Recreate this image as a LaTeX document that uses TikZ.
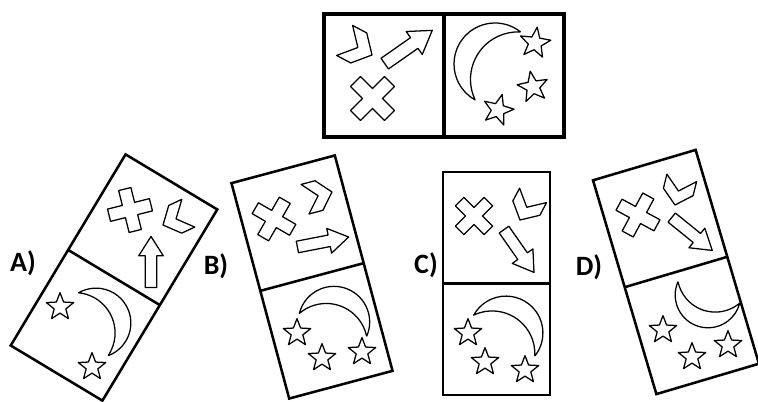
\documentclass[tikz,border=0pt]{standalone}
\usepackage{fontspec}
\setmainfont{Carlito}
\tikzset{
  outline/.style={draw,line width=0.95pt,line join=round},
  cross/.pic={\draw[outline] (-7,7) -- (-7,24) -- (7,24) -- (7,7) -- (24,7) -- (24,-7)
      -- (7,-7) -- (7,-24) -- (-7,-24) -- (-7,-7) -- (-24,-7) -- (-24,7) -- cycle;},
  chevron/.pic={\draw[outline] (0,0) -- (-15,17) -- (-31,17) -- (-16,0) -- (-31,-17) -- (-15,-17) -- cycle;},
  blockarrow/.pic={\draw[outline] (-29,-6.5) -- (7,-6.5) -- (7,-14) -- (29,0) -- (7,14) -- (7,6.5) -- (-29,6.5) -- cycle;},
  moon/.pic={\draw[outline] (52:41) arc[start angle=52,end angle=241,radius=41]
      arc[start angle=205.5,end angle=87.6,radius=47.5] -- cycle;},
  star/.pic={\draw[outline] (90:16) \foreach \a in {90,162,234,306,378} {-- ({\a+36}:6.8) -- ({\a+72}:16)} -- cycle;}
}
\begin{document}
\begin{tikzpicture}[x=0.75pt,y=0.75pt,
    domino/.style={line width=1.9pt},
    optlabel/.style={font=\fontsize{21}{21}\selectfont\bfseries}]
  \useasboundingbox (0,0) rectangle (758,401);

  % question
  \draw[domino,line width=2.3pt] (324,264) rectangle (564,387) (444,264) -- (444,387);
  \pic[rotate=-28] at (372,346) {chevron};
  \pic[rotate=35] at (408.5,354) {blockarrow};
  \pic[rotate=45] at (372.5,302.5) {cross};
  \pic at (495,337) {moon};
  \pic[rotate=-8] at (535,358) {star};
  \pic[rotate=10] at (533,314) {star};
  \pic[rotate=-15] at (498,291) {star};

  % A
  \node[optlabel] (labA) at (23,138) {A)};
  \begin{scope}[shift={(114,123.5)},rotate=-31]
    \draw[domino] (-53.5,-111.5) rectangle (53.5,111.5) (-53.5,0) -- (53.5,0);
  \end{scope}
  \pic[rotate=14,scale=0.9] at (130,191) {cross};
  \pic[rotate=205,scale=0.9] at (163,176) {chevron};
  \pic[rotate=90,scale=0.88] at (151,139) {blockarrow};
  \pic[rotate=-121,scale=0.85] at (96,78) {moon};
  \pic[scale=0.9] at (60,94) {star};
  \pic[scale=0.9] at (92,34) {star};

  % B
  \node[optlabel] (labB) at (216,135) {B)};
  \begin{scope}[shift={(312,124)},rotate=15]
    \draw[domino] (-53.5,-111.5) rectangle (53.5,111.5) (-53.5,0) -- (53.5,0);
  \end{scope}
  \pic[rotate=60,scale=0.9] at (274,182) {cross};
  \pic[rotate=15,scale=0.9] at (332,209) {chevron};
  \pic[rotate=11,scale=0.9] at (323,159) {blockarrow};
  \pic[rotate=-75,scale=0.87] at (334,79) {moon};
  \pic[scale=0.9] at (297,68) {star};
  \pic[scale=0.9] at (322,43) {star};
  \pic[scale=0.9] at (362,49) {star};

  % C
  \node[optlabel] (labC) at (426,136) {C)};
  \begin{scope}[shift={(496.5,117.5)}]
    \draw[domino] (-53.5,-111.5) rectangle (53.5,111.5) (-53.5,0) -- (53.5,0);
  \end{scope}
  \pic[rotate=45,scale=0.85] at (474,185) {cross};
  \pic[rotate=-118,scale=0.9] at (520,181) {chevron};
  \pic[rotate=-55,scale=0.9] at (519,150) {blockarrow};
  \pic[rotate=-90,scale=0.9] at (506,68) {moon};
  \pic[scale=0.9] at (468,68) {star};
  \pic[scale=0.9] at (485,39) {star};
  \pic[scale=0.9] at (525,31) {star};

  % D
  \node[optlabel] (labD) at (589,134) {D)};
  \begin{scope}[shift={(676,129)},rotate=16.5]
    \draw[domino] (-53.5,-111.5) rectangle (53.5,111.5) (-53.5,0) -- (53.5,0);
  \end{scope}
  \pic[rotate=61.5,scale=0.9] at (638,186) {cross};
  \pic[rotate=-104,scale=0.9] at (675,196) {chevron};
  \pic[rotate=-39,scale=0.9] at (692,167) {blockarrow};
  \pic[rotate=104.7,scale=0.8] at (708,106) {moon};
  \pic[scale=0.9] at (663,71) {star};
  \pic[scale=0.9] at (692,44) {star};
  \pic[scale=0.9] at (728,56) {star};
\end{tikzpicture}
\end{document}
